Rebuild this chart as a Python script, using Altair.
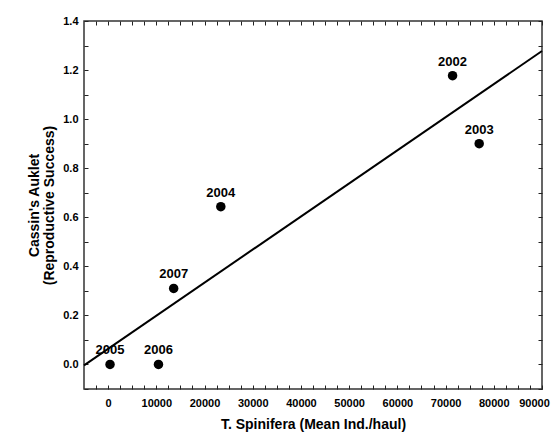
import altair as alt
import pandas as pd

# Data
years = ["2002", "2003", "2004", "2005", "2006", "2007"]
spinifera = [71450, 76970, 23380, 400, 10450, 13600]
success = [1.177, 0.90, 0.643, 0.0, 0.0, 0.31]

x_domain = [-5000, 90000]
y_domain = [-0.1, 1.4]
x_ticks = list(range(-2500, 90001, 2500))
y_ticks = [round(v * 0.1, 1) for v in range(-1, 15)]

FONT = "Liberation Sans"
TICK = 4

df = pd.DataFrame({"year": years, "x": spinifera, "y": success})

xs = alt.Scale(domain=x_domain, nice=False, zero=False)
ys = alt.Scale(domain=y_domain, nice=False, zero=False)

common = dict(domain=False, ticks=True, tickSize=TICK, tickColor="#222",
              tickWidth=1, grid=False, offset=-TICK)
lab = dict(labelFont=FONT, labelFontWeight="bold", labelFontSize=11,
           labelColor="black", labelOverlap=False, labelFlush=False)
tit = dict(titleFont=FONT, titleFontWeight="bold", titleFontSize=14,
           titleColor="black")

x_bottom = alt.Axis(values=x_ticks, format="d",
                    labelExpr="datum.value % 10000 == 0 ? datum.label : ''",
                    labelOffset={"condition": {"test": "datum.value == 90000", "value": -8},
                                 "value": 0},
                    labelPadding=8, title="T. Spinifera (Mean Ind./haul)",
                    titlePadding=9, **lab, **tit, **common)
y_left = alt.Axis(values=y_ticks,
                  labelExpr="abs(round(datum.value * 10)) % 2 == 0 ? format(datum.value, '.1f') : ''",
                  labelPadding=6,
                  title=["Cassin's Auklet", "(Reproductive Success)"],
                  titleLineHeight=15, titlePadding=6, **lab, **tit, **common)
x_top = alt.Axis(values=x_ticks, orient="top", labels=False, title=None, **common)
y_right = alt.Axis(values=y_ticks, orient="right", labels=False, title=None, **common)

base = alt.Chart(df)

labels = base.mark_text(font=FONT, fontWeight="bold", fontSize=13, dy=-14,
                        baseline="middle", color="black").encode(
    x=alt.X("x:Q", scale=xs, axis=None),
    y=alt.Y("y:Q", scale=ys, axis=None),
    text="year:N",
)

line = base.transform_regression("x", "y", extent=x_domain).mark_line(
    color="black", strokeWidth=2).encode(
    x=alt.X("x:Q", scale=xs, axis=x_top),
    y=alt.Y("y:Q", scale=ys, axis=y_right),
)

points = base.mark_circle(size=90, color="black", opacity=1).encode(
    x=alt.X("x:Q", scale=xs, axis=x_bottom),
    y=alt.Y("y:Q", scale=ys, axis=y_left),
)

chart = alt.layer(labels, line, points).resolve_axis(
    x="independent", y="independent"
).properties(
    width=458, height=368,
    padding={"left": 76, "top": 13, "right": 9, "bottom": 43},
    autosize=alt.AutoSizeParams(type="none"),
    background="white",
).configure_view(stroke="#333", strokeWidth=1.5)

chart.save("out.html", embed_options={"renderer": "svg", "actions": False})
